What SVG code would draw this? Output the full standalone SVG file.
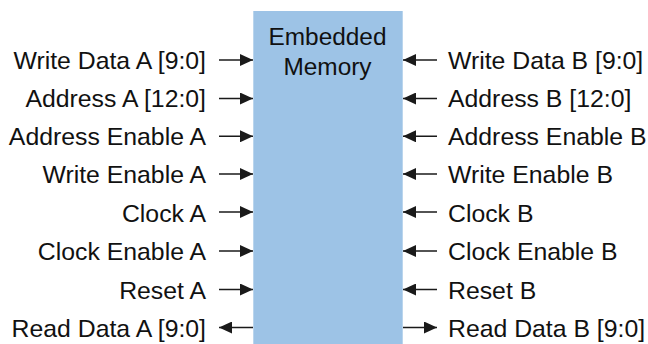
<svg xmlns="http://www.w3.org/2000/svg" width="648" height="344" viewBox="0 0 648 344">
<defs>
<marker id="ah" markerWidth="13" markerHeight="12" refX="13" refY="6" orient="auto" markerUnits="userSpaceOnUse">
<path d="M0,0 L13,6 L0,12 Z" fill="#1a1a1a"/>
</marker>
<style>
text{font-family:"Liberation Sans",Arial,sans-serif;font-size:24.8px;fill:#111}
.l{text-anchor:end}
.c{text-anchor:middle;font-size:24.4px}
.w{stroke:#1a1a1a;stroke-width:1.5;fill:none;marker-end:url(#ah)}
</style>
</defs>
<rect width="648" height="344" fill="#fff"/>
<g id="memory">
<rect x="253.3" y="11" width="149.4" height="340" fill="#9dc3e6"/>
<text class="c" x="327.5" y="45">Embedded</text>
<text class="c" x="327.5" y="75">Memory</text>
</g>
<g id="connectors">
<line class="w" x1="219" y1="60" x2="253" y2="60"/>
<line class="w" x1="219" y1="98.5" x2="253" y2="98.5"/>
<line class="w" x1="219" y1="136.3" x2="253" y2="136.3"/>
<line class="w" x1="219" y1="174" x2="253" y2="174"/>
<line class="w" x1="219" y1="212" x2="253" y2="212"/>
<line class="w" x1="219" y1="251" x2="253" y2="251"/>
<line class="w" x1="219" y1="289.5" x2="253" y2="289.5"/>
<line class="w" x1="253" y1="327.5" x2="219" y2="327.5"/>
<line class="w" x1="437" y1="60" x2="403" y2="60"/>
<line class="w" x1="437" y1="98.5" x2="403" y2="98.5"/>
<line class="w" x1="437" y1="136.3" x2="403" y2="136.3"/>
<line class="w" x1="437" y1="174" x2="403" y2="174"/>
<line class="w" x1="437" y1="212" x2="403" y2="212"/>
<line class="w" x1="437" y1="251" x2="403" y2="251"/>
<line class="w" x1="437" y1="289.5" x2="403" y2="289.5"/>
<line class="w" x1="403" y1="327.5" x2="437" y2="327.5"/>
</g>
<g id="port-a">
<text class="l" x="206" y="68.5">Write Data A [9:0]</text>
<text class="l" x="206" y="106.8">Address A [12:0]</text>
<text class="l" x="206" y="145">Address Enable A</text>
<text class="l" x="206" y="183.4">Write Enable A</text>
<text class="l" x="206" y="221.7">Clock A</text>
<text class="l" x="206" y="260.2">Clock Enable A</text>
<text class="l" x="206" y="298.5">Reset A</text>
<text class="l" x="206" y="336.8">Read Data A [9:0]</text>
</g>
<g id="port-b">
<text x="448" y="68.5">Write Data B [9:0]</text>
<text x="448" y="106.8">Address B [12:0]</text>
<text x="448" y="145">Address Enable B</text>
<text x="448" y="183.4">Write Enable B</text>
<text x="448" y="221.7">Clock B</text>
<text x="448" y="260.2">Clock Enable B</text>
<text x="448" y="298.5">Reset B</text>
<text x="448" y="336.8">Read Data B [9:0]</text>
</g>
</svg>
